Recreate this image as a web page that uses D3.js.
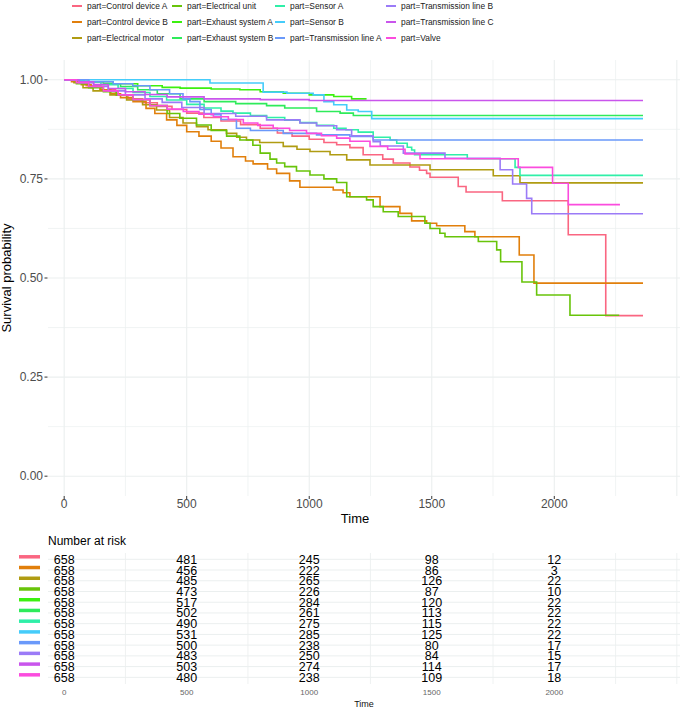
<!DOCTYPE html>
<html><head><meta charset="utf-8">
<script src="https://cdn.jsdelivr.net/npm/d3@7"></script>
<style>body{margin:0;background:#fff;} svg{display:block;font-family:"Liberation Sans",Arial,sans-serif;}</style>
</head><body>
<svg id="c" width="685" height="709"></svg>
<script>
const groups = ["Control device A","Control device B","Electrical motor","Electrical unit","Exhaust system A","Exhaust system B","Sensor A","Sensor B","Transmission line A","Transmission line B","Transmission line C","Valve"];
const colors = ["#FA6681","#E17F0B","#B09C12","#68C40A","#3CF00F","#2EEB5A","#2FEFA8","#45CCFA","#6A99FA","#9B7BF7","#C955EC","#FB4CDE"];

const cdA = [[0,1],[40,0.995],[90,0.985],[150,0.975],[210,0.962],[260,0.952],[320,0.942],[380,0.933],[440,0.925],[500,0.916],[570,0.905],[640,0.896],[720,0.887],[800,0.878],[870,0.866],[930,0.858],[1000,0.85],[1060,0.842],[1112,0.836],[1166,0.829],[1220,0.811],[1300,0.8],[1343,0.79],[1411,0.78],[1450,0.772],[1479,0.764],[1493,0.754],[1608,0.731],[1640,0.717],[1788,0.695],[2057,0.609],[2210,0.405],[2362,0.405]];
const cdB = [[0,1],[30,0.995],[70,0.988],[110,0.982],[146,0.975],[190,0.965],[230,0.955],[281,0.945],[334,0.928],[370,0.915],[418,0.899],[460,0.885],[500,0.869],[550,0.858],[600,0.845],[640,0.828],[689,0.806],[740,0.795],[771,0.788],[830,0.775],[867,0.764],[920,0.745],[962,0.729],[1098,0.722],[1138,0.715],[1166,0.705],[1289,0.68],[1370,0.663],[1418,0.644],[1479,0.638],[1520,0.632],[1635,0.617],[1676,0.604],[1857,0.558],[1917,0.487],[2362,0.487]];
const eMotor = [[0,1],[40,0.993],[77,0.98],[118,0.972],[187,0.962],[255,0.949],[320,0.937],[377,0.924],[430,0.905],[485,0.891],[540,0.882],[587,0.874],[662,0.865],[704,0.855],[744,0.848],[798,0.842],[894,0.832],[950,0.825],[1003,0.819],[1085,0.811],[1153,0.798],[1248,0.785],[1493,0.773],[1751,0.758],[1860,0.74],[2362,0.74]];
const eUnit = [[0,1],[50,0.99],[100,0.98],[160,0.97],[214,0.962],[280,0.95],[350,0.935],[420,0.915],[472,0.903],[540,0.886],[600,0.872],[663,0.858],[717,0.848],[770,0.835],[800,0.815],[840,0.8],[867,0.79],[900,0.781],[948,0.77],[1003,0.76],[1060,0.75],[1112,0.741],[1153,0.705],[1234,0.697],[1261,0.68],[1302,0.667],[1363,0.655],[1472,0.638],[1493,0.625],[1533,0.613],[1554,0.604],[1690,0.592],[1765,0.571],[1781,0.541],[1868,0.49],[1928,0.457],[2064,0.406],[2265,0.406]];
const exA = [[0,1],[100,0.995],[200,0.99],[300,0.985],[400,0.981],[473,0.979],[600,0.977],[717,0.975],[800,0.97],[894,0.966],[1000,0.962],[1100,0.958],[1173,0.952],[1234,0.952]];
const exB = [[0,1],[80,0.995],[160,0.99],[230,0.983],[300,0.975],[380,0.965],[473,0.952],[571,0.945],[700,0.94],[826,0.935],[900,0.929],[1030,0.92],[1126,0.916],[1180,0.91],[2362,0.91]];
const sensA = [[0,1],[80,0.995],[150,0.988],[220,0.978],[281,0.968],[350,0.958],[418,0.949],[500,0.938],[571,0.929],[640,0.921],[689,0.916],[760,0.91],[826,0.905],[900,0.898],[962,0.892],[1030,0.885],[1100,0.878],[1150,0.874],[1200,0.868],[1261,0.855],[1330,0.848],[1357,0.84],[1400,0.83],[1418,0.823],[1430,0.811],[1645,0.801],[1840,0.779],[1860,0.759],[2362,0.759]];
const sensB = [[0,1],[595,0.992],[812,0.969],[909,0.966],[1016,0.962],[1060,0.945],[1100,0.937],[1153,0.924],[1200,0.92],[1255,0.902],[2362,0.902]];
const tlA = [[0,1],[100,0.995],[200,0.99],[280,0.985],[350,0.975],[430,0.965],[485,0.952],[513,0.945],[554,0.925],[600,0.912],[640,0.9],[703,0.878],[760,0.872],[894,0.865],[1030,0.861],[1166,0.857],[1261,0.848],[2362,0.848]];
const tlB = [[0,1],[60,0.993],[120,0.983],[180,0.972],[250,0.962],[330,0.952],[400,0.943],[480,0.93],[571,0.915],[700,0.908],[826,0.899],[962,0.891],[1030,0.884],[1112,0.874],[1173,0.859],[1261,0.844],[1290,0.833],[1384,0.815],[1554,0.802],[1779,0.773],[1830,0.737],[1887,0.701],[1908,0.662],[2362,0.662]];
const tlC = [[0,1],[60,0.995],[120,0.988],[180,0.978],[250,0.97],[330,0.963],[420,0.957],[571,0.952],[800,0.95],[1000,0.948],[2362,0.948]];
const valve = [[0,1],[50,0.993],[100,0.983],[160,0.972],[220,0.962],[281,0.95],[350,0.935],[420,0.926],[486,0.92],[550,0.913],[609,0.907],[670,0.9],[731,0.891],[790,0.885],[853,0.878],[920,0.872],[989,0.865],[1050,0.859],[1112,0.853],[1166,0.845],[1248,0.832],[1320,0.825],[1391,0.813],[1452,0.801],[1853,0.779],[1993,0.739],[2057,0.685],[2268,0.685]];
const curves = [cdA,cdB,eMotor,eUnit,exA,exB,sensA,sensB,tlA,tlB,tlC,valve];

const riskTimes = [0,500,1000,1500,2000];
const risk = [
 [658,481,245,98,12],[658,456,222,86,3],[658,485,265,126,22],[658,473,226,87,10],
 [658,517,284,120,22],[658,502,261,113,22],[658,490,275,115,22],[658,531,285,125,22],
 [658,500,238,80,17],[658,483,250,84,15],[658,503,274,114,17],[658,480,238,109,18]];
const xTicks = [0,500,1000,1500,2000];
const yTicks = [0,0.25,0.5,0.75,1];
const yTickLabels = ["0.00","0.25","0.50","0.75","1.00"];

const svg = d3.select("#c");
const grid = "#EBEFEF";
const x = d3.scaleLinear().domain([-66,2513]).range([48,680]);
const y = d3.scaleLinear().domain([-0.05,1.05]).range([496,60]);

// main grid
const g = svg.append("g");
const xGrid = d3.range(0,2501,250);
const yGrid = d3.range(0,1.001,0.125);
g.selectAll(".vg").data(xGrid).join("line").attr("x1",d=>x(d)).attr("x2",d=>x(d)).attr("y1",60).attr("y2",496)
 .attr("stroke",grid).attr("stroke-width",d=>d%500===0?1.1:0.7);
g.selectAll(".hg").data(yGrid).join("line").attr("y1",d=>y(d)).attr("y2",d=>y(d)).attr("x1",48).attr("x2",680)
 .attr("stroke",grid).attr("stroke-width",(d,i)=>i%2===0?1.1:0.7);

// axes ticks and labels
g.selectAll(".yt").data(yTicks).join("line").attr("x1",44.5).attr("x2",47.5).attr("y1",d=>y(d)).attr("y2",d=>y(d)).attr("stroke","#333").attr("stroke-width",1);
g.selectAll(".ytl").data(yTicks).join("text").attr("x",43).attr("y",d=>y(d)+4.3).attr("text-anchor","end")
 .attr("font-size",12).attr("fill","#4D4D4D").text((d,i)=>yTickLabels[i]);
g.selectAll(".xt").data(xTicks).join("line").attr("x1",d=>x(d)).attr("x2",d=>x(d)).attr("y1",496).attr("y2",499).attr("stroke","#333").attr("stroke-width",1);
g.selectAll(".xtl").data(xTicks).join("text").attr("x",d=>x(d)).attr("y",508).attr("text-anchor","middle")
 .attr("font-size",12).attr("fill","#4D4D4D").text(d=>d);
svg.append("text").attr("x",355).attr("y",523).attr("text-anchor","middle").attr("font-size",13).attr("fill","#000").text("Time");
svg.append("text").attr("transform","translate(11,278) rotate(-90)").attr("text-anchor","middle").attr("font-size",13).attr("fill","#000").text("Survival probability");

// curves
const line = d3.line().x(d=>x(d[0])).y(d=>y(d[1])).curve(d3.curveStepAfter);
svg.append("g").selectAll("path").data(curves).join("path").attr("d",line).attr("fill","none")
 .attr("stroke",(d,i)=>colors[i]).attr("stroke-width",1.6);

// legend
const legX = [[72,87],[172,187],[275,290],[386,401]];
const legY = [6,22,38];
const leg = svg.append("g");
groups.forEach((name,i)=>{
  const c = Math.floor(i/3), r = i%3;
  leg.append("line").attr("x1",legX[c][0]).attr("x2",legX[c][0]+10).attr("y1",legY[r]).attr("y2",legY[r]).attr("stroke",colors[i]).attr("stroke-width",2);
  leg.append("text").attr("x",legX[c][1]).attr("y",legY[r]+3.2).attr("font-size",8.4).attr("fill","#1a1a1a").text("part="+name);
});

// risk table
const rowY = i => 559.3 + i*10.73;
const t = svg.append("g");
const tGridX = [250,750,1250,1750,2250,2500];
t.selectAll(".tv").data(tGridX).join("line").attr("x1",d=>x(d)).attr("x2",d=>x(d)).attr("y1",553).attr("y2",684).attr("stroke",grid).attr("stroke-width",0.8);
t.selectAll(".th").data(groups).join("line").attr("x1",48).attr("x2",680).attr("y1",(d,i)=>rowY(i)).attr("y2",(d,i)=>rowY(i)).attr("stroke",grid).attr("stroke-width",1);
svg.append("text").attr("x",48).attr("y",545).attr("font-size",12).attr("fill","#000").text("Number at risk");
groups.forEach((name,i)=>{
  t.append("line").attr("x1",19).attr("x2",40).attr("y1",rowY(i)-2.5).attr("y2",rowY(i)-2.5).attr("stroke",colors[i]).attr("stroke-width",3.5);
  t.selectAll(null).data(risk[i]).join("text").attr("x",(d,j)=>x(riskTimes[j])).attr("y",rowY(i)+4.5)
   .attr("text-anchor","middle").attr("font-size",12.5).attr("fill","#000").text(d=>d);
});
t.selectAll(".ttl").data(xTicks).join("text").attr("x",d=>x(d)).attr("y",695).attr("text-anchor","middle").attr("font-size",8).attr("fill","#666").text(d=>d);
svg.append("text").attr("x",364).attr("y",707).attr("text-anchor","middle").attr("font-size",9).attr("fill","#111").text("Time");
</script>
</body></html>
